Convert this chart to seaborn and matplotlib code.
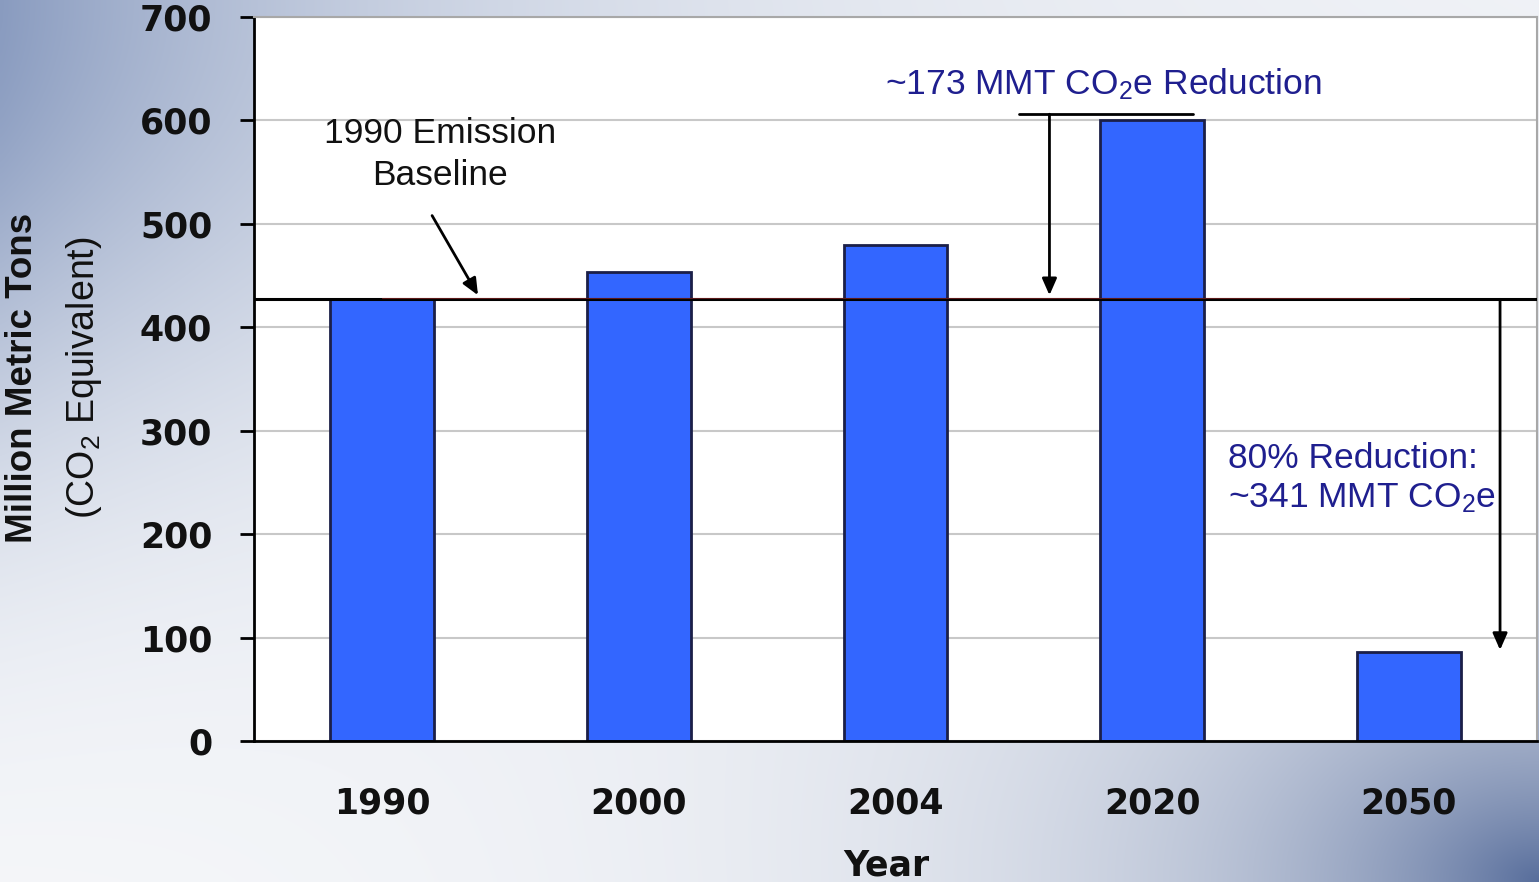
import numpy as np
import matplotlib
matplotlib.use("Agg")
import matplotlib.pyplot as plt
import seaborn as sns

# Emissions by year (million metric tons CO2 equivalent)
years = ["1990", "2000", "2004", "2020", "2050"]
emissions = [427, 453, 480, 600, 86]
baseline = 427          # 1990 emission baseline
reduction_2020 = 173    # reduction needed from the 2020 projection
reduction_2050 = 341    # 80% reduction target
y_ticks = [0, 100, 200, 300, 400, 500, 600, 700]

sns.set_style("white")
plt.rcParams["font.family"] = ["Liberation Sans", "DejaVu Sans"]
plt.rcParams["mathtext.fontset"] = "custom"
plt.rcParams["mathtext.rm"] = "Liberation Sans"
plt.rcParams["mathtext.it"] = "Liberation Sans:italic"
plt.rcParams["mathtext.bf"] = "Liberation Sans:bold"

W, H = 1539, 882
fig = plt.figure(figsize=(W / 100, H / 100), dpi=100)

# slide-style gradient background
u = np.linspace(0, 1, 500)[None, :]
v = np.linspace(0, 1, 300)[:, None]
white = np.array([248, 249, 251]) / 255
tl_col = np.array([138, 156, 192]) / 255
br_col = np.array([88, 110, 156]) / 255
tl = np.exp(-u / 0.31) * np.exp(-(v / 0.5) ** 2)
br = np.exp(-np.hypot(1 - u, (1 - v) * 0.8) / 0.22)
w_tl = tl[..., None]
w_br = np.clip(br, 0, 1)[..., None]
grad = white - w_tl * (white - tl_col) - w_br * (white - br_col)
grad = np.clip(grad, 0, 1)
bg = fig.add_axes([0, 0, 1, 1], zorder=-10)
bg.imshow(grad, aspect="auto", extent=[0, 1, 0, 1], interpolation="bicubic")
bg.axis("off")

ax = fig.add_axes([254 / W, 141 / H, 1283 / W, 724 / H])
ax.set_facecolor("white")

sns.barplot(x=years, y=emissions, color="#3366FF", saturation=1,
            edgecolor="#1b1f48", linewidth=2, width=0.405, ax=ax)

ax.set_xlim(-0.5, 4.5)
ax.set_ylim(0, 700)
ax.set_yticks(y_ticks)
ax.set_xticks(np.arange(-0.5, 5, 1), minor=True)
ax.yaxis.grid(True, color="#c8c8c8", lw=1.5)
ax.xaxis.grid(False)
ax.set_axisbelow(True)

for side in ("left", "bottom"):
    ax.spines[side].set_color("black")
    ax.spines[side].set_linewidth(2)
for side in ("top", "right"):
    ax.spines[side].set_color("#a8a8a8")
    ax.spines[side].set_linewidth(1.5)

ax.tick_params(axis="x", which="major", length=0, pad=33, labelsize=25)
ax.tick_params(axis="x", which="minor", length=10, width=2, direction="out",
               color="black")
ax.tick_params(axis="y", length=10, width=2, direction="out", pad=20,
               labelsize=25, color="black", left=True)
plt.setp(ax.get_xticklabels() + ax.get_yticklabels(),
         fontweight="bold", family="DejaVu Sans", color="#111111")

ax.set_xlabel("Year", fontsize=25, fontweight="bold", family="DejaVu Sans",
              color="#111111", va="top")
ax.xaxis.set_label_coords(0.4926, -0.148)
ax.set_ylabel("Million Metric Tons", fontsize=26.5, fontweight="bold",
              color="#111111", va="center")
ax.yaxis.set_label_coords(-0.1805, 0.502)
ax.text(-0.1325, 0.502, "(CO$_2$ Equivalent)", transform=ax.transAxes,
        rotation=90, ha="center", va="center", fontsize=27, color="#111111")

# 1990 baseline
ax.axhline(baseline, color="black", lw=2.2, zorder=3)
ax.axhline(baseline + 1.5, xmin=0.1, xmax=0.9, color="#9a2a2a", lw=0.8,
           alpha=0.6, zorder=3)

navy = "#1f1f8f"
arrow = dict(arrowstyle="-|>,head_length=0.5,head_width=0.22", color="black",
             lw=2, mutation_scale=20, shrinkA=0, shrinkB=0)

ax.text(0.225, 567, "1990 Emission\nBaseline", ha="center", va="center",
        fontsize=25.5, color="#111111", linespacing=1.32)
ax.annotate("", xy=(0.373, baseline + 4), xytext=(0.194, 508),
            arrowprops=arrow, zorder=4)

# reduction from the 2020 projection back to the baseline
top2020 = emissions[3] + 6
ax.plot([2.48, 3.16], [top2020, top2020], color="black", lw=2, zorder=4)
ax.annotate("", xy=(2.60, baseline + 4), xytext=(2.60, top2020),
            arrowprops=arrow, zorder=4)
ax.text(2.808, 635, f"~{reduction_2020} MMT CO$_2$e Reduction",
        ha="center", va="center", fontsize=25.5, color=navy)

# 80% reduction by 2050
ax.annotate("", xy=(4.356, baseline - reduction_2050 + 2),
            xytext=(4.356, baseline), arrowprops=arrow, zorder=4)
ax.text(3.296, 254, f"80% Reduction:\n~{reduction_2050} MMT CO$_2$e",
        ha="left", va="center", fontsize=25.5, color=navy, linespacing=1.22)

fig.savefig("out.png", dpi=100)
